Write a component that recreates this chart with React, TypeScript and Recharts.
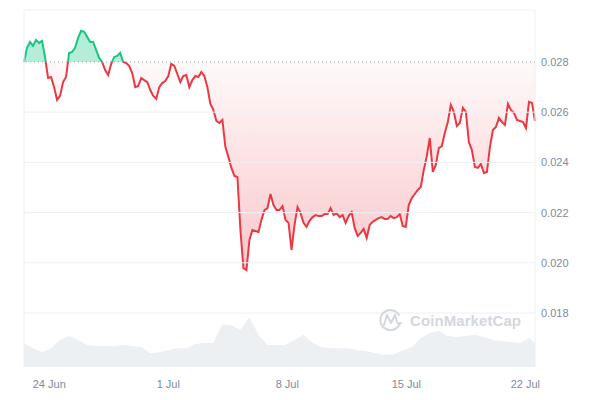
import {
  ComposedChart,
  Area,
  XAxis,
  YAxis,
  ReferenceLine,
} from "recharts";

// --- Data ---
// price, about every 4h, 30 days
const PRICES = [
  0.02800, 0.02856, 0.02880, 0.02864, 0.02888, 0.02876, 0.02884, 0.02820, 0.02736, 0.02740,
  0.02700, 0.02649, 0.02665, 0.02720, 0.02740, 0.02836, 0.02840, 0.02856, 0.02896, 0.02924,
  0.02920, 0.02900, 0.02880, 0.02880, 0.02848, 0.02816, 0.02800, 0.02768, 0.02748, 0.02792,
  0.02820, 0.02824, 0.02836, 0.02800, 0.02796, 0.02784, 0.02756, 0.02700, 0.02704, 0.02736,
  0.02728, 0.02720, 0.02688, 0.02665, 0.02653, 0.02700, 0.02716, 0.02724, 0.02744, 0.02792,
  0.02784, 0.02752, 0.02720, 0.02744, 0.02748, 0.02700, 0.02728, 0.02744, 0.02740, 0.02760,
  0.02744, 0.02700, 0.02633, 0.02609, 0.02565, 0.02557, 0.02569, 0.02461, 0.02422, 0.02378,
  0.02346, 0.02342, 0.02131, 0.01979, 0.01971, 0.02091, 0.02131, 0.02127, 0.02123, 0.02171,
  0.02210, 0.02218, 0.02274, 0.02230, 0.02210, 0.02210, 0.02226, 0.02171, 0.02159, 0.02051,
  0.02151, 0.02222, 0.02198, 0.02159, 0.02143, 0.02167, 0.02182, 0.02190, 0.02186, 0.02186,
  0.02194, 0.02194, 0.02218, 0.02190, 0.02198, 0.02182, 0.02190, 0.02159, 0.02186, 0.02202,
  0.02139, 0.02107, 0.02119, 0.02135, 0.02099, 0.02151, 0.02163, 0.02171, 0.02178, 0.02182,
  0.02175, 0.02175, 0.02186, 0.02178, 0.02182, 0.02194, 0.02147, 0.02143, 0.02230, 0.02258,
  0.02274, 0.02290, 0.02302, 0.02370, 0.02425, 0.02497, 0.02362, 0.02390, 0.02457, 0.02465,
  0.02517, 0.02561, 0.02629, 0.02601, 0.02545, 0.02557, 0.02617, 0.02601, 0.02481, 0.02449,
  0.02382, 0.02378, 0.02394, 0.02358, 0.02362, 0.02461, 0.02529, 0.02541, 0.02577, 0.02561,
  0.02549, 0.02633, 0.02609, 0.02597, 0.02569, 0.02565, 0.02561, 0.02537, 0.02641, 0.02637,
  0.02565,
];

// volume ($M), one value per 3 price points
const VOLUME = [
  4.7, 3.7, 2.9, 3.7, 5.3, 6.1, 5.3, 4.3, 4.1, 4.1,
  4.1, 4.3, 4.1, 3.9, 2.7, 2.9, 3.3, 3.7, 3.7, 4.5,
  4.7, 4.7, 8.4, 8.2, 7.3, 9.8, 6.3, 4.3, 4.3, 4.3,
  5.3, 6.3, 4.7, 3.9, 3.7, 3.7, 3.7, 3.3, 3.1, 2.7,
  2.4, 2.5, 3.3, 3.9, 5.7, 6.7, 7.1, 6.1, 5.9, 6.1,
  6.3, 5.9, 5.3, 5.1, 4.9, 4.7, 5.7, 4.7,
];

const X_TICKS = [8.4, 48, 87.6, 127.2, 166.8];
const X_LABELS = ["24 Jun", "1 Jul", "8 Jul", "15 Jul", "22 Jul"];
const Y_TICKS = [0.018, 0.02, 0.022, 0.024, 0.026, 0.028];
const OPEN_PRICE = 0.028;

// --- Style ---
const GREEN = "#16c784";
const RED = "#ea3943";
const GRID = "#eef0f3";
const TEXT = "#808a9d";
const FONT = "'Liberation Sans', Arial, sans-serif";
const Y_DOMAIN = [0.01585, 0.03007];
const VOL_DOMAIN = [0, 70];

const last = PRICES.length - 1;
const volAt: Record<number, number> = {};
VOLUME.forEach((v, k) => {
  volAt[Math.min(k * 3, last)] = v;
});
const data = PRICES.map((p, i) => ({ i, price: p, vol: volAt[i] }));

const hi = Math.max(...PRICES);
const lo = Math.min(...PRICES);
const split = (hi - OPEN_PRICE) / (hi - lo);

const tickStyle = { fill: TEXT, fontSize: 11, fontFamily: FONT };

function Watermark() {
  return (
    <svg
      width={600}
      height={400}
      style={{ position: "absolute", left: 0, top: 0, pointerEvents: "none" }}
    >
      <g fill="none" stroke="#d3d7de" strokeWidth={2} strokeLinecap="round" strokeLinejoin="round">
        <path d="M400,323 A10,10 0 1 1 399,315" />
        <path d="M384,325 L387,315 L391,323 L395,315 L397,322 Q398,325 401,323" />
      </g>
      <text
        x={410}
        y={326}
        fill="#d3d7de"
        fontSize={15}
        fontWeight={700}
        fontFamily={FONT}
        textLength={111}
      >
        CoinMarketCap
      </text>
    </svg>
  );
}

export default function App() {
  return (
    <div style={{ position: "absolute", left: 0, top: 0, width: 600, height: 400, background: "#fff" }}>
      <ComposedChart width={600} height={400} data={data} margin={{ top: 10, right: 0, left: 24, bottom: 0 }}>
        <defs>
          <linearGradient id="priceStroke" x1="0" y1="0" x2="0" y2="1">
            <stop offset={0} stopColor={GREEN} />
            <stop offset={split} stopColor={GREEN} />
            <stop offset={split} stopColor={RED} />
            <stop offset={1} stopColor={RED} />
          </linearGradient>
          <linearGradient id="priceFill" x1="0" y1="0" x2="0" y2="1">
            <stop offset={0} stopColor={GREEN} stopOpacity={0.32} />
            <stop offset={split} stopColor={GREEN} stopOpacity={0.32} />
            <stop offset={split} stopColor={RED} stopOpacity={0.03} />
            <stop offset={1} stopColor={RED} stopOpacity={0.28} />
          </linearGradient>
        </defs>
        <XAxis
          type="number"
          dataKey="i"
          domain={[0, last]}
          ticks={X_TICKS}
          tickFormatter={(t) => X_LABELS[X_TICKS.indexOf(t)]}
          axisLine={false}
          tickLine={false}
          tickMargin={7}
          height={33}
          tick={tickStyle}
          interval={0}
        />
        <YAxis
          yAxisId="price"
          orientation="right"
          width={65}
          domain={Y_DOMAIN}
          ticks={Y_TICKS}
          tickFormatter={(v) => v.toFixed(3)}
          axisLine={false}
          tickLine={false}
          tickMargin={0}
          tick={tickStyle}
          allowDataOverflow
        />
        <YAxis yAxisId="vol" hide domain={VOL_DOMAIN} />

        {Y_TICKS.filter((t) => t !== OPEN_PRICE).map((t) => (
          <ReferenceLine key={t} yAxisId="price" y={t} stroke={GRID} />
        ))}
        <ReferenceLine yAxisId="price" y={Y_DOMAIN[1]} stroke={GRID} />
        <ReferenceLine yAxisId="price" x={0} stroke={GRID} />
        <ReferenceLine yAxisId="price" x={last} stroke={GRID} />

        <Area
          yAxisId="vol"
          type="linear"
          dataKey="vol"
          stroke="none"
          fill="#edf0f3"
          fillOpacity={1}
          connectNulls
          dot={false}
          activeDot={false}
          isAnimationActive={false}
        />
        <Area
          yAxisId="price"
          type="linear"
          dataKey="price"
          baseValue={OPEN_PRICE}
          stroke="url(#priceStroke)"
          strokeWidth={2}
          fill="url(#priceFill)"
          fillOpacity={1}
          dot={false}
          activeDot={false}
          isAnimationActive={false}
        />
        <ReferenceLine yAxisId="price" y={OPEN_PRICE} stroke="#9ea5b1" strokeDasharray="1 3" />
      </ComposedChart>
      <Watermark />
    </div>
  );
}
